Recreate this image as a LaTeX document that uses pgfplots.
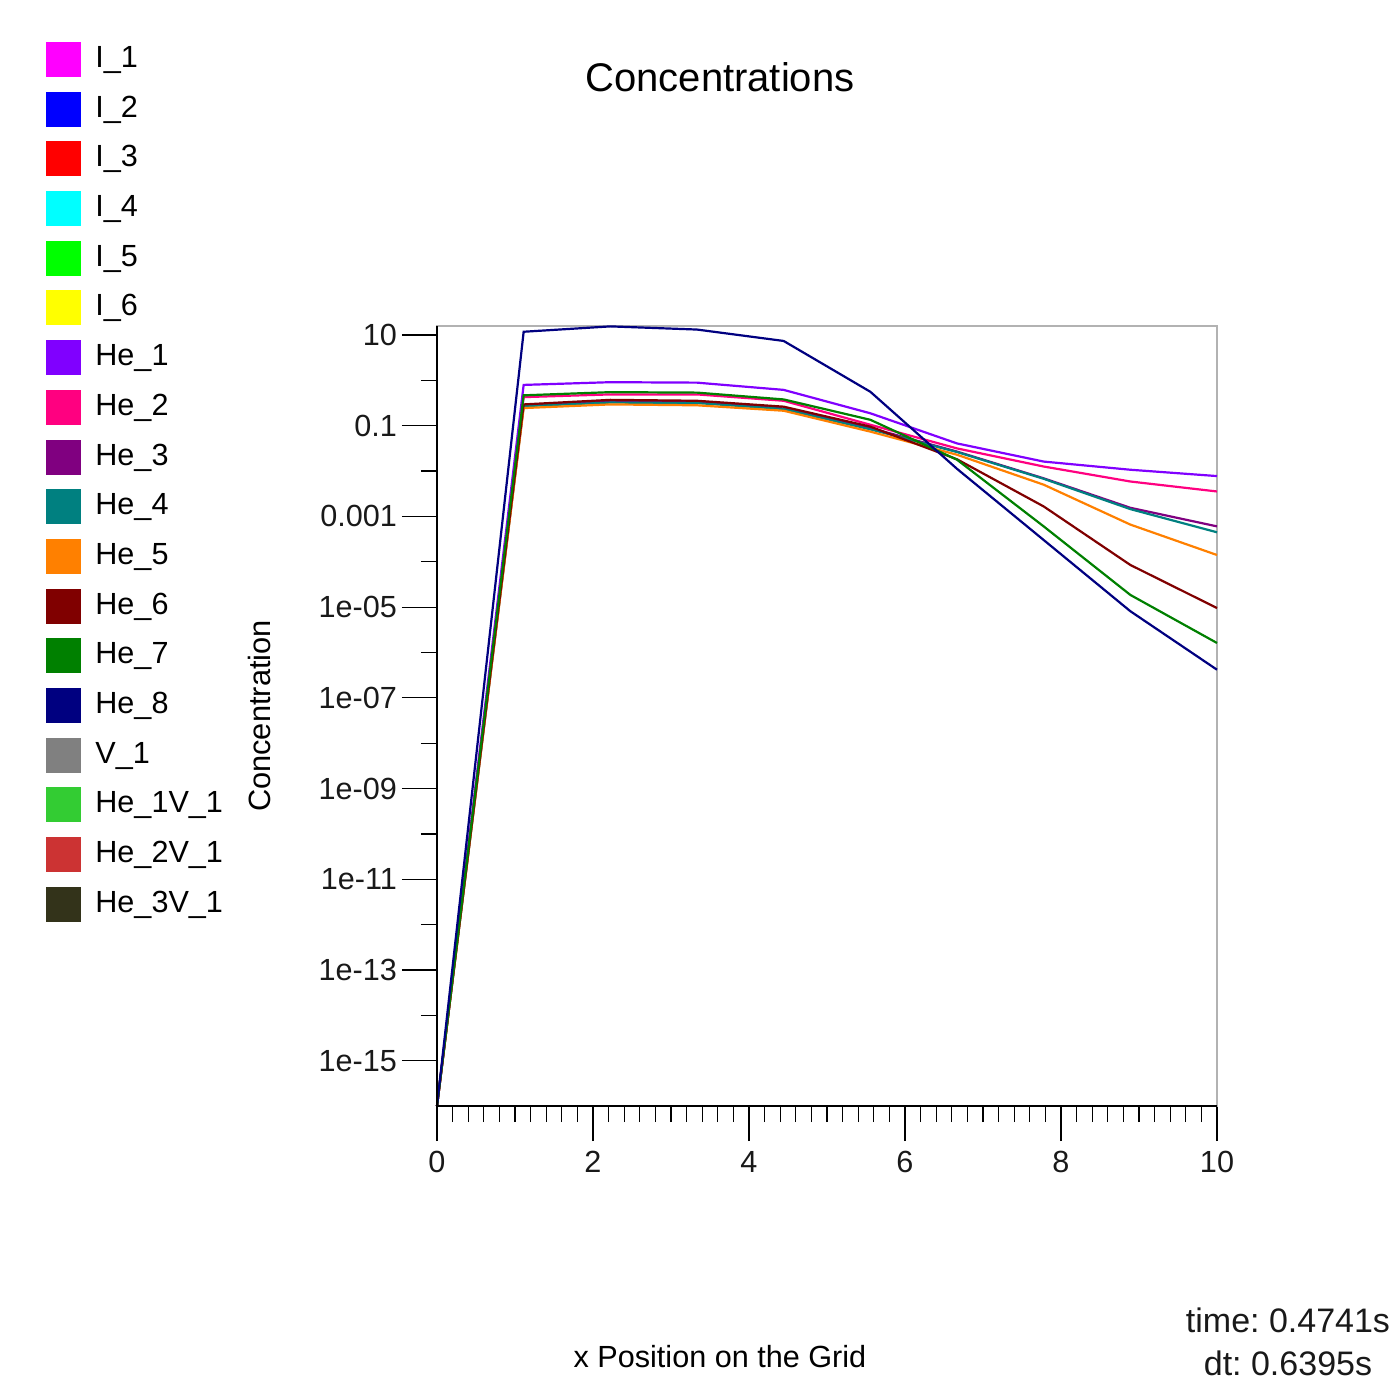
\documentclass[border=0pt]{standalone}
\usepackage{pgfplots}
\pgfplotsset{compat=1.18}
\usepackage{pgfplotstable}
\usepackage{fontspec}
\setmainfont{Liberation Sans}
\frenchspacing

\definecolor{cI1}{HTML}{FF00FF}
\definecolor{cI2}{HTML}{0000FF}
\definecolor{cI3}{HTML}{FF0000}
\definecolor{cI4}{HTML}{00FFFF}
\definecolor{cI5}{HTML}{00FF00}
\definecolor{cI6}{HTML}{FFFF00}
\definecolor{cHe1}{HTML}{8000FF}
\definecolor{cHe2}{HTML}{FF0080}
\definecolor{cHe3}{HTML}{800080}
\definecolor{cHe4}{HTML}{008080}
\definecolor{cHe5}{HTML}{FF8000}
\definecolor{cHe6}{HTML}{800000}
\definecolor{cHe7}{HTML}{008000}
\definecolor{cHe8}{HTML}{000080}
\definecolor{cV1}{HTML}{808080}
\definecolor{cHe1V1}{HTML}{33CC33}
\definecolor{cHe2V1}{HTML}{CC3333}
\definecolor{cHe3V1}{HTML}{33331A}

\pgfplotstableread{
x      he1      he2      he3       he4       he5       he6       he7       he8
0      1e-16    1e-16    1e-16     1e-16     1e-16     1e-16     1e-16     1e-16
1.111  0.794    0.427    0.282     0.269     0.245     0.295     0.468     11.8
2.222  0.912    0.490    0.339     0.324     0.295     0.372     0.550     15.5
3.333  0.891    0.490    0.331     0.316     0.282     0.355     0.537     13.2
4.444  0.617    0.355    0.240     0.234     0.214     0.263     0.380     7.4
5.556  0.188    0.105    0.0891    0.0832    0.0741    0.0955    0.135     0.56
6.667  0.0407   0.0316   0.0269    0.0263    0.0229    0.0182    0.0178    0.0112
7.778  0.0162   0.0126   0.00692   0.00676   0.00501   0.00166   0.000603  3.02e-4
8.889  0.0107   0.00589  0.00155   0.00145   0.000661  8.51e-5   1.86e-5   8.13e-6
10     0.00776  0.00355  0.000603  0.000447  0.000141  9.55e-6   1.62e-6   4.17e-7
}\datatable

\begin{document}
\begin{tikzpicture}
\begin{axis}[
  scale only axis,
  width=390pt, height=390pt,
  xmin=0, xmax=10,
  ymode=log, ymin=1e-16, ymax=15.8,
  clip=false,
  axis line style={gray!60, line width=0.6pt},
  tick style={black, line width=0.6pt},
  tick align=outside,
  xtick pos=bottom, ytick pos=left,
  major tick length=17.5pt,
  minor tick length=8pt,
  xtick={0,2,4,6,8,10},
  minor x tick num=9,
  ytick={1e-15,1e-13,1e-11,1e-9,1e-7,1e-5,1e-3,1e-1,10},
  yticklabels={1e-15,1e-13,1e-11,1e-09,1e-07,1e-05,0.001,0.1,10},
  minor ytick={1e-14,1e-12,1e-10,1e-8,1e-6,1e-4,1e-2,1},
  /pgf/number format/assume math mode=true,
  tick label style={font=\fontsize{15.3}{18}\selectfont, text=black!90},
  xticklabel style={yshift=-1.5pt},
  yticklabel style={xshift=1pt},
  title={Concentrations},
  title style={at={(rel axis cs:0.3628,1.303)}, anchor=center, font=\fontsize{20}{24}\selectfont},
  xlabel={x Position on the Grid},
  xlabel style={at={(rel axis cs:0.3628,-0.3218)}, anchor=center, font=\fontsize{15.3}{18}\selectfont},
  ylabel={Concentration},
  ylabel style={at={(rel axis cs:-0.227,0.5)}, anchor=center, font=\fontsize{15.4}{18}\selectfont},
  legend image code/.code={\fill[#1, draw=none] (0pt,-8.75pt) rectangle (17.5pt,8.75pt);},
  legend style={draw=none, fill=none, at={(rel axis cs:-0.5013,1.3647)}, anchor=north west,
    font=\fontsize{15.3}{18}\selectfont, row sep=7.35pt, inner sep=0pt,
    nodes={inner sep=0pt, text height=11pt, text depth=3pt},
    /tikz/every odd column/.append style={column sep=7pt}},
  legend cell align=left,
  every axis plot/.append style={line width=1.1pt},
]
\addlegendimage{cI1}\addlegendentry{I\_1}
\addlegendimage{cI2}\addlegendentry{I\_2}
\addlegendimage{cI3}\addlegendentry{I\_3}
\addlegendimage{cI4}\addlegendentry{I\_4}
\addlegendimage{cI5}\addlegendentry{I\_5}
\addlegendimage{cI6}\addlegendentry{I\_6}
\addplot[cHe1] table[x=x, y=he1] {\datatable}; \addlegendentry{He\_1}
\addplot[cHe2] table[x=x, y=he2] {\datatable}; \addlegendentry{He\_2}
\addplot[cHe3] table[x=x, y=he3] {\datatable}; \addlegendentry{He\_3}
\addplot[cHe4] table[x=x, y=he4] {\datatable}; \addlegendentry{He\_4}
\addplot[cHe5] table[x=x, y=he5] {\datatable}; \addlegendentry{He\_5}
\addplot[cHe6] table[x=x, y=he6] {\datatable}; \addlegendentry{He\_6}
\addplot[cHe7] table[x=x, y=he7] {\datatable}; \addlegendentry{He\_7}
\addplot[cHe8] table[x=x, y=he8] {\datatable}; \addlegendentry{He\_8}
\addlegendimage{cV1}\addlegendentry{V\_1}
\addlegendimage{cHe1V1}\addlegendentry{He\_1V\_1}
\addlegendimage{cHe2V1}\addlegendentry{He\_2V\_1}
\addlegendimage{cHe3V1}\addlegendentry{He\_3V\_1}
\draw[black, line width=0.6pt] (rel axis cs:0,1) -- (rel axis cs:0,0) -- (rel axis cs:1,0);
\node[align=center, font=\fontsize{17}{21.5}\selectfont, text=black!90] at (rel axis cs:1.091,-0.3026) {time: 0.4741s\\dt: 0.6395s};
\coordinate (bbSW) at (rel axis cs:-0.56026,-0.35256);
\coordinate (bbNE) at (rel axis cs:1.22949,1.41795);
\end{axis}
\pgfresetboundingbox
\path (bbSW) rectangle (bbNE);
\end{tikzpicture}
\end{document}
